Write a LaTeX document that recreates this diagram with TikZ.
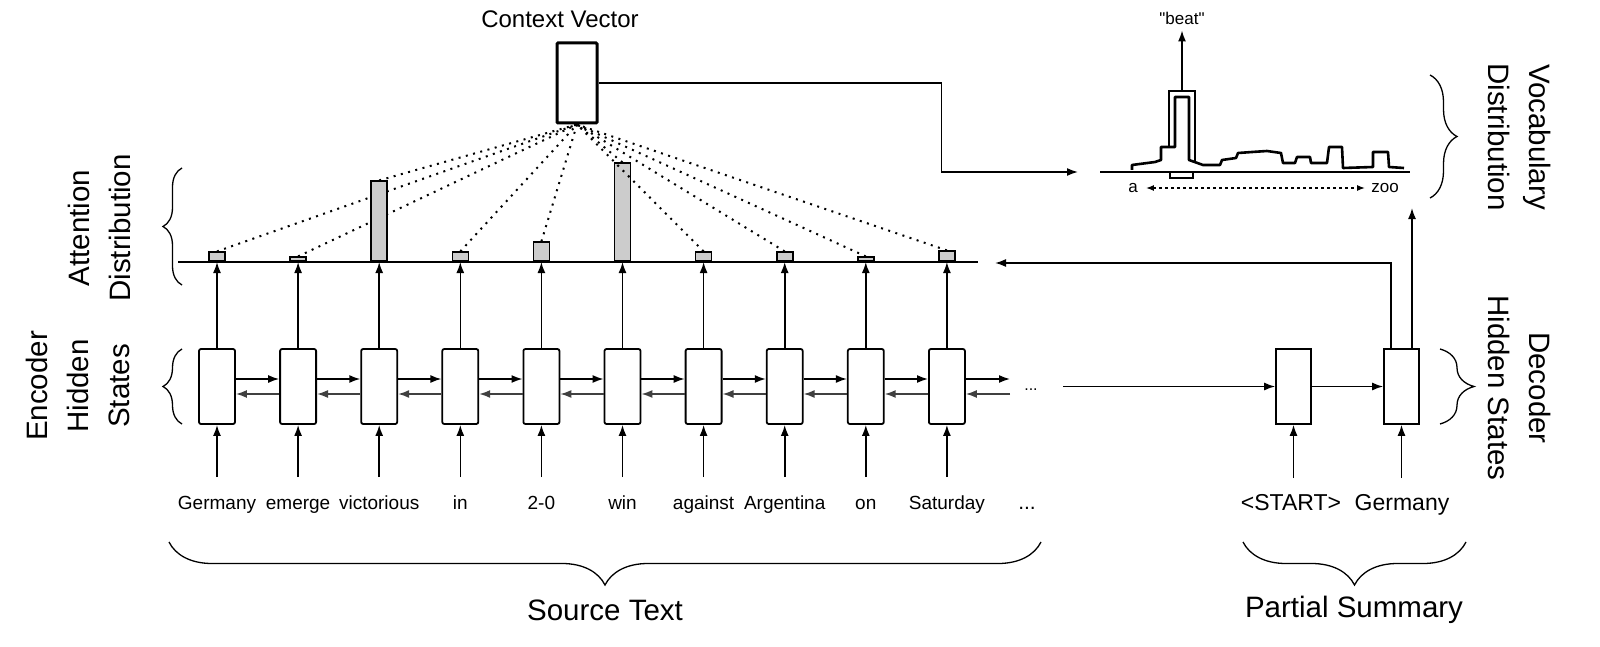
\documentclass[tikz,border=0pt]{standalone}
\usepackage{fontspec}
\setmainfont{Liberation Sans}
\newfontfamily\rawfont{Liberation Sans}[Ligatures=TeXOff]
\usetikzlibrary{arrows.meta,decorations.pathreplacing,calc}
\begin{document}
\begin{tikzpicture}[x=1pt,y=-1pt,
  ln/.style={line width=1.6pt},
  arr/.style={line width=1.6pt,-{Latex[length=11pt,width=8pt]}},
  larr/.style={line width=1.6pt,black!75,-{Latex[length=11pt,width=8pt]}},
  encbox/.style={draw,line width=1.8pt,rounded corners=2pt,minimum width=36pt,minimum height=75pt,inner sep=0pt},
  decbox/.style={draw,line width=1.6pt,minimum width=35pt,minimum height=75pt,inner sep=0pt},
  bar/.style={draw,line width=1.6pt,fill=black!20,minimum width=16pt,inner sep=0pt,anchor=south},
  att/.style={line width=2pt,dash pattern=on 2pt off 5.5pt},
  word/.style={font=\fontsize{19}{22}\selectfont,inner sep=0pt,anchor=base},
  dword/.style={font=\fontsize{23}{26}\selectfont,inner sep=0pt,anchor=base},
  small/.style={font=\fontsize{17}{20}\selectfont,inner sep=0pt},
  lbl/.style={font=\fontsize{29.5}{41}\selectfont,align=center,inner sep=0pt},
  brc/.style={decorate,line width=1.3pt}
]
\useasboundingbox (0,0) rectangle (1600,647);

% context vector
\node[draw,line width=3pt,rounded corners=1pt,minimum width=40pt,minimum height=80pt,inner sep=0pt] (cv) at (577,83) {};
\node[lbl,font=\fontsize{24}{30}\selectfont] (cvl) at (560,19) {Context Vector};

% attention line
\coordinate (attL) at (178,262);
\coordinate (attR) at (978,262);
\draw[line width=1.8pt] (attL) -- (attR);

% encoder
\foreach \i/\w/\h in {0/Germany/9,1/emerge/4,2/victorious/80,3/in/9,4/2-0/19,5/win/98,6/against/9,7/Argentina/9,8/on/4,9/Saturday/10}{
  \pgfmathsetmacro{\cx}{217+81.1*\i}
  \node[encbox] (e\i) at (\cx,386.5) {};
  \node[bar,minimum height=\h pt] (b\i) at (\cx,262) {};
  \node[word] (w\i) at (\cx,509) {\w};
  \coordinate (wa\i) at (\cx,477);
  \draw[arr] (wa\i) -- (e\i.south);
  \draw[arr] (e\i.north) -- (e\i.north |- attL);
  \draw[att] (b\i.north) -- (cv.south);
}
\foreach \i [evaluate=\i as \j using int(\i+1)] in {0,...,8}{
  \draw[arr] ([yshift=7.5pt]e\i.east) -- ([yshift=7.5pt]e\j.west);
  \draw[larr] ([yshift=-7.5pt]e\j.west) -- ([yshift=-7.5pt]e\i.east);
}
\coordinate (endR) at (1010,379);
\coordinate (endL) at (1010,394);
\draw[arr] ([yshift=7.5pt]e9.east) -- (endR);
\draw[larr] (endL) -- ([yshift=-7.5pt]e9.east);
\node[font=\fontsize{16}{18}\selectfont,inner sep=0pt,anchor=base] (mdots) at (1031,390) {...};
\node[word,font=\fontsize{21}{24}\selectfont] (wdots) at (1027,509) {...};

% decoder
\node[decbox] (d0) at (1293.5,386.5) {};
\node[decbox] (d1) at (1401.5,386.5) {};
\coordinate (encend) at (1063,386.5);
\draw[arr] (encend) -- (d0.west);
\draw[arr] (d0.east) -- (d1.west);
\node[dword] (dw0) at (1291,510) {<START>};
\node[dword] (dw1) at (1402,510) {Germany};
\coordinate (da0) at (1293.5,478);
\coordinate (da1) at (1401.5,478);
\draw[arr] (da0) -- (d0.south);
\draw[arr] (da1) -- (d1.south);
\coordinate (atttip) at (995,263);
\draw[arr] ([xshift=-10.5pt]d1.north) |- (atttip);
\coordinate (vdtip) at (1412,208);
\draw[arr] ([xshift=10.5pt]d1.north) -- (vdtip);

% vocabulary distribution
\coordinate (vtip) at (1078,172);
\draw[arr] (cv.east) -- ++(343,0) |- (vtip);
\draw[line width=2pt] (1100,172) -- (1410,172);
\draw[line width=2.6pt,line join=round] (1132,170) -- (1132,165) -- (1155,162) -- (1161,160) -- (1161,147) -- (1175,147) -- (1175,97) -- (1189,97) -- (1189,160) -- (1203,165) -- (1220,165) -- (1222,160) -- (1236,158) -- (1238,153) -- (1252,152) -- (1267,151) -- (1281,153) -- (1283,163) -- (1295,163) -- (1297,157) -- (1310,157) -- (1311,163) -- (1327,163) -- (1329,147) -- (1342,147) -- (1343,168) -- (1373,167) -- (1373,152) -- (1388,152) -- (1389,167) -- (1404,168);
\draw[line width=1.8pt] (1169,147) -- (1169,91) -- (1195,91) -- (1195,161);
\draw[line width=1.6pt] (1170,172) rectangle (1193,178);
\coordinate (pk) at (1182,91);
\node[small,font=\rawfont\fontsize{17}{20}\selectfont] (beat) at (1182,18) {"beat"};
\draw[arr,shorten >=6pt] (pk) -- (beat.south);
\node[small] (va) at (1133,188) {a};
\node[small] (vz) at (1385,188) {zoo};
\draw[line width=1.4pt,dashed,{Latex[length=8pt,width=6pt]}-{Latex[length=8pt,width=6pt]}] (va.east) ++(8,0) -- ([xshift=-6pt]vz.west);

% braces and labels
\draw[brc,decoration={brace,amplitude=19pt}] (182,285) -- (182,168);
\node[lbl,rotate=90] (attlbl) at (99,228) {Attention\\Distribution};
\draw[brc,decoration={brace,amplitude=19pt}] (182,424) -- (182,349);
\node[lbl,rotate=90] (enclbl) at (78,386) {Encoder\\Hidden\\States};
\draw[brc,decoration={brace,amplitude=27pt}] (1430,75) -- (1430,198);
\node[lbl,rotate=-90] (voclbl) at (1520,137) {Vocabulary\\Distribution};
\draw[brc,decoration={brace,amplitude=34pt}] (1440,349) -- (1440,424);
\node[lbl,rotate=-90] (declbl) at (1520,388) {Decoder\\Hidden States};
\draw[brc,decoration={brace,amplitude=43pt}] (1041,542) -- (169,542);
\node[lbl] (srclbl) at (605,610) {Source Text};
\draw[brc,decoration={brace,amplitude=43pt}] (1466,542) -- (1243,542);
\node[lbl] (sumlbl) at (1354,610) {Partial Summary};
\end{tikzpicture}
\end{document}
